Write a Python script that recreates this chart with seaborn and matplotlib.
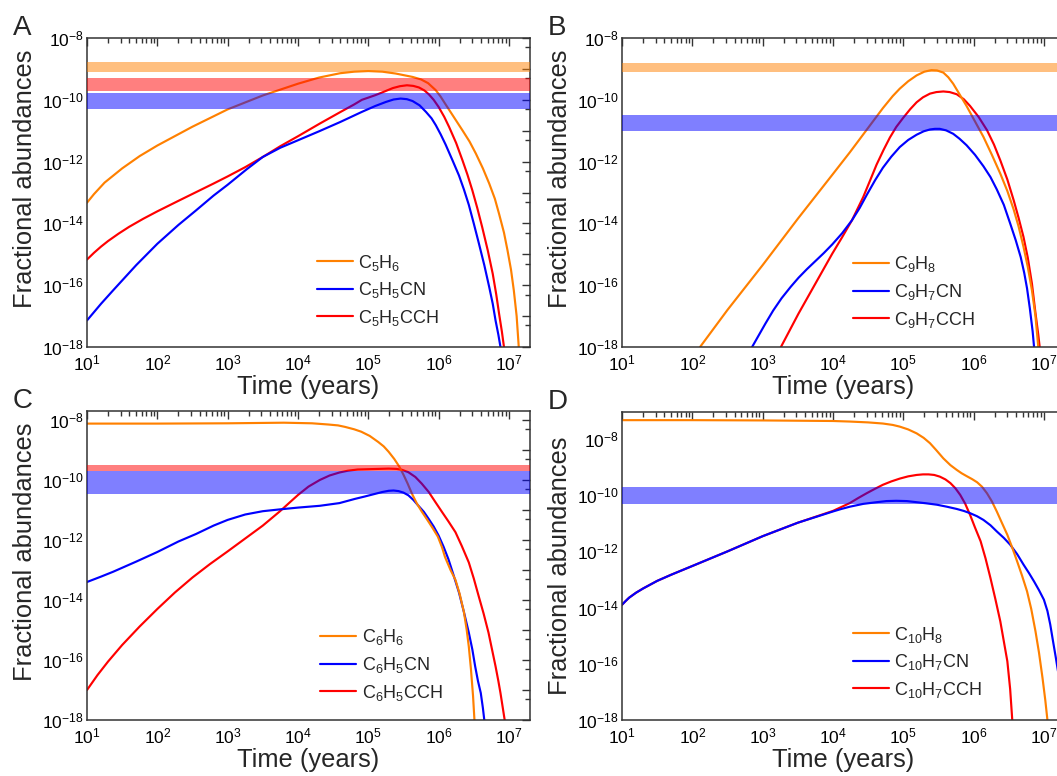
import numpy as np
import pandas as pd
import matplotlib
matplotlib.use("Agg")
import matplotlib.pyplot as plt
import seaborn as sns
from matplotlib.ticker import FixedLocator, FuncFormatter, NullFormatter

sns.set_theme(style="white")
plt.rcParams["font.family"] = ["Liberation Sans", "DejaVu Sans"]
plt.rcParams["mathtext.fontset"] = "custom"
plt.rcParams["mathtext.rm"] = "Liberation Sans"
plt.rcParams["mathtext.it"] = "Liberation Sans:italic"
plt.rcParams["mathtext.bf"] = "Liberation Sans:bold"
plt.rcParams["mathtext.default"] = "regular"

# ---- data: log10(time / years) and log10(fractional abundance) ----
# Panel A
A_or_t = [1.0, 1.1, 1.25, 1.5, 1.75, 2.0, 2.5, 3.0, 3.5, 4.0, 4.3, 4.6, 4.8, 5.0, 5.2, 5.39, 5.63, 5.75, 5.85, 5.96, 6.03, 6.10, 6.22, 6.34, 6.44, 6.53, 6.63, 6.72, 6.80, 6.86, 6.93, 6.98, 7.03, 7.07, 7.11, 7.14, 7.16]
A_or_y = [-13.33, -13.05, -12.68, -12.22, -11.82, -11.48, -10.87, -10.31, -9.86, -9.48, -9.28, -9.14, -9.09, -9.07, -9.09, -9.15, -9.26, -9.34, -9.46, -9.69, -9.9, -10.15, -10.57, -10.99, -11.35, -11.74, -12.22, -12.71, -13.2, -13.69, -14.3, -14.87, -15.5, -16.17, -17.0, -18.0, -18.5]
A_bl_t = [1.0, 1.2, 1.37, 1.7, 2.0, 2.3, 2.55, 2.8, 3.0, 3.27, 3.5, 3.75, 4.0, 4.3, 4.6, 4.91, 5.1, 5.25, 5.36, 5.46, 5.55, 5.63, 5.73, 5.82, 5.9, 5.96, 6.03, 6.10, 6.2, 6.29, 6.36, 6.43, 6.5, 6.57, 6.65, 6.72, 6.77, 6.81, 6.85, 6.88, 6.90]
A_bl_y = [-17.14, -16.6, -16.17, -15.35, -14.66, -14.05, -13.58, -13.1, -12.75, -12.25, -11.85, -11.55, -11.31, -11.02, -10.72, -10.39, -10.2, -10.07, -9.99, -9.96, -9.98, -10.04, -10.18, -10.39, -10.6, -10.82, -11.12, -11.45, -11.97, -12.45, -12.9, -13.4, -14.0, -14.62, -15.35, -16.06, -16.6, -17.14, -17.6, -18.0, -18.5]
A_rd_t = [1.0, 1.1, 1.2, 1.3, 1.45, 1.6, 1.8, 2.0, 2.3, 2.55, 2.8, 3.0, 3.25, 3.5, 3.75, 4.0, 4.31, 4.6, 4.8, 4.91, 5.0, 5.1, 5.2, 5.35, 5.45, 5.55, 5.64, 5.72, 5.8, 5.86, 5.93, 6.0, 6.08, 6.15, 6.25, 6.34, 6.41, 6.48, 6.55, 6.62, 6.7, 6.77, 6.82, 6.86, 6.9, 6.93, 6.95]
A_rd_y = [-15.17, -14.95, -14.75, -14.57, -14.33, -14.11, -13.85, -13.61, -13.27, -12.99, -12.71, -12.48, -12.18, -11.85, -11.5, -11.18, -10.77, -10.4, -10.15, -10.0, -9.93, -9.85, -9.76, -9.62, -9.56, -9.53, -9.55, -9.6, -9.7, -9.82, -10.0, -10.23, -10.55, -10.88, -11.4, -11.96, -12.42, -12.93, -13.5, -14.12, -14.88, -15.63, -16.3, -16.92, -17.5, -18.0, -18.5]
A_bands = [(-9.10, -8.79), (-9.71, -9.28), (-10.30, -9.78)]  # orange, red, blue

# Panel B
B_or_t = [2.09, 2.11, 2.5, 3.0, 3.5, 4.0, 4.24, 4.48, 4.71, 4.85, 4.95, 5.07, 5.19, 5.3, 5.40, 5.48, 5.57, 5.64, 5.71, 5.80, 5.90, 6.02, 6.14, 6.26, 6.38, 6.48, 6.57, 6.64, 6.71, 6.77, 6.83, 6.88, 6.92, 6.94]
B_or_y = [-18.5, -18.0, -16.8, -15.35, -13.85, -12.4, -11.7, -10.97, -10.27, -9.88, -9.64, -9.4, -9.21, -9.09, -9.04, -9.05, -9.12, -9.27, -9.48, -9.82, -10.2, -10.7, -11.2, -11.78, -12.39, -12.95, -13.55, -14.1, -14.76, -15.4, -16.17, -17.0, -18.0, -18.5]
B_bl_t = [2.83, 2.85, 2.95, 3.04, 3.15, 3.27, 3.4, 3.51, 3.63, 3.75, 3.87, 3.99, 4.13, 4.27, 4.38, 4.48, 4.6, 4.71, 4.83, 4.95, 5.07, 5.19, 5.29, 5.38, 5.45, 5.52, 5.61, 5.71, 5.80, 5.90, 6.02, 6.14, 6.24, 6.33, 6.43, 6.52, 6.6, 6.67, 6.72, 6.76, 6.8, 6.84, 6.86, 6.88]
B_bl_y = [-18.5, -18.0, -17.6, -17.24, -16.82, -16.42, -16.05, -15.76, -15.48, -15.22, -14.96, -14.68, -14.32, -13.9, -13.5, -13.08, -12.6, -12.2, -11.84, -11.53, -11.3, -11.13, -11.02, -10.96, -10.94, -10.94, -10.99, -11.10, -11.26, -11.47, -11.78, -12.15, -12.5, -12.9, -13.4, -14.0, -14.55, -15.09, -15.6, -16.1, -16.75, -17.5, -18.0, -18.5]
B_rd_t = [3.24, 3.26, 3.51, 3.75, 3.99, 4.13, 4.27, 4.43, 4.53, 4.62, 4.72, 4.81, 4.9, 5.0, 5.1, 5.19, 5.28, 5.38, 5.47, 5.57, 5.66, 5.76, 5.86, 5.95, 6.07, 6.19, 6.29, 6.38, 6.48, 6.57, 6.64, 6.71, 6.77, 6.83, 6.88, 6.92, 6.94, 6.96]
B_rd_y = [-18.5, -18.0, -16.92, -15.95, -14.98, -14.45, -13.9, -13.15, -12.6, -12.1, -11.62, -11.22, -10.88, -10.58, -10.3, -10.08, -9.92, -9.8, -9.75, -9.73, -9.75, -9.82, -9.98, -10.2, -10.55, -10.98, -11.45, -11.96, -12.58, -13.25, -13.82, -14.44, -15.1, -15.95, -16.9, -17.6, -18.0, -18.5]
B_bands = [(-9.09, -8.82), None, (-11.01, -10.50)]

# Panel C
C_or_t = [1.0, 2.0, 3.0, 3.8, 4.2, 4.43, 4.57, 4.67, 4.8, 4.9, 5.02, 5.14, 5.22, 5.29, 5.37, 5.44, 5.5, 5.56, 5.62, 5.69, 5.76, 5.84, 5.92, 5.99, 6.05, 6.09, 6.17, 6.24, 6.3, 6.36, 6.4, 6.43, 6.46, 6.49, 6.51, 6.52]
C_or_y = [-8.12, -8.12, -8.11, -8.09, -8.11, -8.15, -8.18, -8.23, -8.31, -8.39, -8.53, -8.73, -8.88, -9.06, -9.3, -9.55, -9.82, -10.12, -10.45, -10.78, -11.05, -11.33, -11.62, -11.89, -12.25, -12.56, -13.0, -13.33, -13.8, -14.4, -15.0, -15.56, -16.3, -17.2, -18.0, -18.5]
C_bl_t = [1.0, 1.2, 1.37, 1.7, 2.0, 2.3, 2.55, 2.8, 3.0, 3.25, 3.5, 3.74, 4.0, 4.31, 4.59, 4.81, 4.95, 5.1, 5.2, 5.29, 5.36, 5.43, 5.5, 5.57, 5.64, 5.71, 5.79, 5.86, 5.93, 6.0, 6.07, 6.14, 6.21, 6.29, 6.36, 6.43, 6.48, 6.52, 6.56, 6.6, 6.63, 6.65, 6.67]
C_bl_y = [-13.4, -13.22, -13.06, -12.72, -12.4, -12.05, -11.8, -11.52, -11.33, -11.15, -11.04, -10.98, -10.92, -10.86, -10.77, -10.63, -10.55, -10.46, -10.4, -10.36, -10.35, -10.37, -10.42, -10.51, -10.66, -10.85, -11.06, -11.30, -11.55, -11.85, -12.22, -12.64, -13.15, -13.75, -14.4, -15.09, -15.65, -16.21, -16.7, -17.1, -17.6, -18.0, -18.5]
C_rd_t = [1.0, 1.15, 1.3, 1.5, 1.75, 2.0, 2.25, 2.5, 2.75, 3.0, 3.25, 3.5, 3.74, 4.0, 4.15, 4.31, 4.45, 4.59, 4.71, 4.85, 5.0, 5.15, 5.29, 5.4, 5.48, 5.57, 5.67, 5.76, 5.86, 5.95, 6.05, 6.14, 6.24, 6.33, 6.43, 6.5, 6.57, 6.64, 6.71, 6.76, 6.81, 6.85, 6.88, 6.91, 6.94, 6.96]
C_rd_y = [-17.0, -16.5, -16.05, -15.5, -14.88, -14.3, -13.75, -13.25, -12.8, -12.38, -11.95, -11.52, -11.05, -10.5, -10.22, -10.0, -9.85, -9.75, -9.69, -9.65, -9.64, -9.63, -9.62, -9.63, -9.66, -9.74, -9.9, -10.12, -10.4, -10.72, -11.07, -11.38, -11.74, -12.2, -12.75, -13.28, -13.87, -14.45, -15.09, -15.65, -16.21, -16.7, -17.1, -17.55, -18.0, -18.5]
C_bands = [None, (-9.70, -9.50), (-10.45, -9.70)]

# Panel D
D_or_t = [1.0, 2.0, 3.0, 4.0, 4.24, 4.5, 4.71, 4.85, 4.95, 5.07, 5.19, 5.29, 5.38, 5.47, 5.57, 5.67, 5.76, 5.83, 5.90, 5.98, 6.05, 6.12, 6.19, 6.26, 6.33, 6.4, 6.48, 6.55, 6.62, 6.69, 6.76, 6.82, 6.88, 6.93, 6.98, 7.02, 7.05, 7.07]
D_or_y = [-7.33, -7.33, -7.34, -7.36, -7.38, -7.41, -7.45, -7.5, -7.56, -7.66, -7.8, -7.96, -8.15, -8.4, -8.69, -8.93, -9.1, -9.22, -9.32, -9.43, -9.54, -9.7, -9.93, -10.22, -10.58, -10.97, -11.41, -11.87, -12.36, -12.87, -13.42, -14.05, -14.84, -15.6, -16.5, -17.3, -18.0, -18.5]
D_bl_t = [1.0, 1.05, 1.1, 1.2, 1.3, 1.5, 1.7, 2.0, 2.5, 3.0, 3.5, 4.0, 4.12, 4.24, 4.43, 4.62, 4.76, 4.90, 5.05, 5.19, 5.33, 5.48, 5.62, 5.76, 5.86, 5.95, 6.05, 6.14, 6.24, 6.33, 6.43, 6.52, 6.62, 6.71, 6.79, 6.86, 6.93, 7.0, 7.05, 7.09, 7.13, 7.17, 7.2]
D_bl_y = [-13.9, -13.77, -13.65, -13.47, -13.32, -13.05, -12.83, -12.52, -12.0, -11.46, -10.98, -10.58, -10.49, -10.41, -10.31, -10.25, -10.21, -10.2, -10.21, -10.25, -10.29, -10.34, -10.41, -10.49, -10.56, -10.64, -10.75, -10.88, -11.07, -11.29, -11.52, -11.76, -12.1, -12.47, -12.78, -13.07, -13.38, -13.72, -14.12, -14.6, -15.2, -15.79, -16.26]
D_rd_t = [1.0, 1.05, 1.1, 1.2, 1.3, 1.5, 1.7, 2.0, 2.5, 3.0, 3.5, 4.0, 4.12, 4.24, 4.36, 4.48, 4.6, 4.71, 4.83, 4.95, 5.07, 5.19, 5.28, 5.36, 5.44, 5.52, 5.6, 5.67, 5.74, 5.81, 5.88, 5.95, 6.02, 6.1, 6.17, 6.24, 6.31, 6.38, 6.43, 6.48, 6.52, 6.55, 6.57]
D_rd_y = [-13.9, -13.77, -13.65, -13.47, -13.32, -13.05, -12.83, -12.52, -12.0, -11.46, -10.98, -10.56, -10.42, -10.28, -10.1, -9.93, -9.77, -9.63, -9.51, -9.41, -9.33, -9.28, -9.26, -9.26, -9.28, -9.34, -9.44, -9.57, -9.75, -9.99, -10.3, -10.70, -11.15, -11.64, -12.25, -12.95, -13.7, -14.49, -15.2, -15.91, -16.9, -18.0, -18.5]
D_bands = [None, None, (-10.33, -9.70)]

A_labels = [r"C$_5$H$_6$", r"C$_5$H$_5$CN", r"C$_5$H$_5$CCH"]
B_labels = [r"C$_9$H$_8$", r"C$_9$H$_7$CN", r"C$_9$H$_7$CCH"]
C_labels = [r"C$_6$H$_6$", r"C$_6$H$_5$CN", r"C$_6$H$_5$CCH"]
D_labels = [r"C$_{10}$H$_8$", r"C$_{10}$H$_7$CN", r"C$_{10}$H$_7$CCH"]

line_colors = ["#FF8000", "#0000FF", "#FF0000"]
band_colors = ["#FF8000", "#FF0000", "#0000FF"]

panels = [
    dict(letter="A", labels=A_labels, curves=[(A_or_t, A_or_y), (A_bl_t, A_bl_y), (A_rd_t, A_rd_y)],
         bands=A_bands, ytop=-8.0, pos=(87, 38, 443, 309), leg=(0.519, 0.184), ylab_y=0.544),
    dict(letter="B", labels=B_labels, curves=[(B_or_t, B_or_y), (B_bl_t, B_bl_y), (B_rd_t, B_rd_y)],
         bands=B_bands, ytop=-8.0, pos=(622, 38, 443, 309), leg=(0.521, 0.178), ylab_y=0.544),
    dict(letter="C", labels=C_labels, curves=[(C_or_t, C_or_y), (C_bl_t, C_bl_y), (C_rd_t, C_rd_y)],
         bands=C_bands, ytop=-7.7, pos=(87, 411, 443, 309), leg=(0.526, 0.178), ylab_y=0.544),
    dict(letter="D", labels=D_labels, curves=[(D_or_t, D_or_y), (D_bl_t, D_bl_y), (D_rd_t, D_rd_y)],
         bands=D_bands, ytop=-7.04, pos=(622, 412, 443, 308), leg=(0.521, 0.188), ylab_y=0.50),
]

W, H = 1057, 776
fig = plt.figure(figsize=(W / 100, H / 100), dpi=100)
fig.patch.set_facecolor("white")

spine_col = "#333333"


def xfmt(v, pos):
    e = int(round(np.log10(v)))
    return r"$10^{%d}$" % e


def yfmt(v, pos):
    e = int(round(np.log10(v)))
    return r"$10^{%d}$" % e if e % 2 == 0 else ""


for p in panels:
    l, t, w, h = p["pos"]
    ax = fig.add_axes([l / W, 1 - (t + h) / H, w / W, h / H])
    ax.set_facecolor("white")
    ax.set_xscale("log")
    ax.set_yscale("log")
    handles = []
    zorders = [2.3, 2.2, 2.1]
    for (tt, yy), col, lab, z in zip(p["curves"], line_colors, p["labels"], zorders):
        df = pd.DataFrame({"t": 10.0 ** np.array(tt), "y": 10.0 ** np.array(yy)})
        sns.lineplot(data=df, x="t", y="y", ax=ax, color=col, lw=1.55, sort=False,
                     estimator=None, zorder=z)
        handles.append(plt.Line2D([], [], color=col, lw=1.55, label=lab))
    for band, bc in zip(p["bands"], band_colors):
        if band is not None:
            ax.axhspan(10 ** band[0], 10 ** band[1], color=bc, alpha=0.5, lw=0, zorder=3)
    ax.set_xlim(10, 10 ** 7.3)
    ax.set_ylim(1e-18, 10 ** p["ytop"])

    ax.xaxis.set_major_locator(FixedLocator([10.0 ** k for k in range(1, 8)]))
    ax.xaxis.set_minor_locator(FixedLocator([m * 10.0 ** k for k in range(1, 8) for m in range(2, 10)]))
    ax.xaxis.set_major_formatter(FuncFormatter(xfmt))
    ax.xaxis.set_minor_formatter(NullFormatter())
    ax.yaxis.set_major_locator(FixedLocator([10.0 ** k for k in range(-18, -6)]))
    ax.yaxis.set_minor_locator(FixedLocator([5 * 10.0 ** k for k in range(-19, -7)]))
    ax.yaxis.set_major_formatter(FuncFormatter(yfmt))
    ax.yaxis.set_minor_formatter(NullFormatter())

    ax.tick_params(which="both", direction="in", top=True, right=True, colors=spine_col,
                   labelcolor="black", width=1.0)
    ax.tick_params(which="major", length=6, labelsize=12.5)
    ax.tick_params(which="minor", length=3.5)
    ax.tick_params(axis="y", which="major", pad=2.5)
    ax.tick_params(axis="x", which="major", pad=5)
    for s in ax.spines.values():
        s.set_color(spine_col)
        s.set_linewidth(1.1)
        s.set_visible(True)

    ax.set_xlabel("Time (years)", fontsize=18.4)
    ax.set_ylabel("Fractional abundances", fontsize=18.4)
    ax.xaxis.set_label_coords(0.5, -0.09)
    ax.yaxis.set_label_coords(-0.113, p["ylab_y"])

    leg = ax.legend(handles=handles, loc="center left", bbox_to_anchor=p["leg"], frameon=False,
                    fontsize=13, handlelength=2.0, handletextpad=0.3, labelspacing=0.42,
                    borderpad=0, borderaxespad=0)
    leg.set_zorder(5)

    fig.text((l - 74) / W, 1 - (t - 3) / H, p["letter"], fontsize=20, ha="left", va="baseline")

fig.savefig("out.png", dpi=100)
